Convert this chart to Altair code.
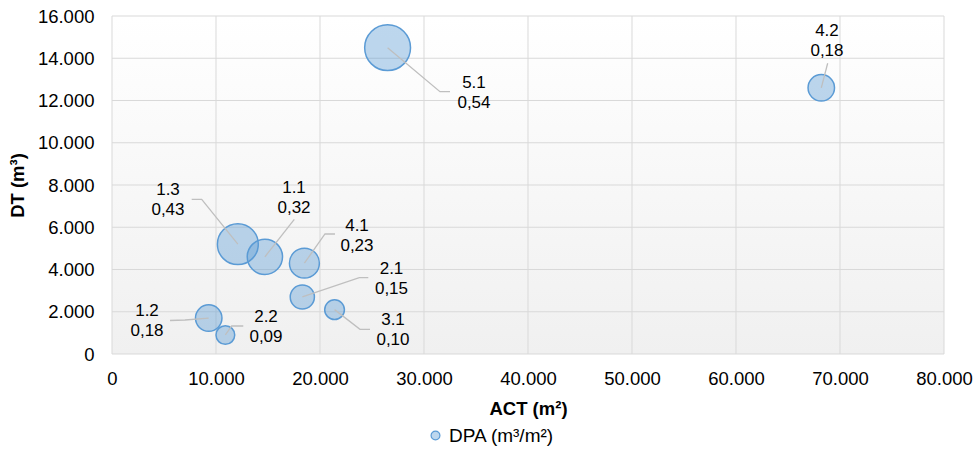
import altair as alt
import pandas as pd

# ---- data ----
codes = ["1.1", "1.2", "1.3", "2.1", "2.2", "3.1", "4.1", "4.2", "5.1"]
act = [14700, 9300, 12100, 18300, 10900, 21400, 18500, 68200, 26500]      # ACT (m²)
dt = [4600, 1700, 5200, 2700, 900, 2100, 4300, 12600, 14500]             # DT (m³)
dpa = [0.32, 0.18, 0.43, 0.15, 0.09, 0.10, 0.23, 0.18, 0.54]              # DPA (m³/m²)
series_name = "DPA (m³/m²)"

x_ticks = [0, 10000, 20000, 30000, 40000, 50000, 60000, 70000, 80000]
y_ticks = [0, 2000, 4000, 6000, 8000, 10000, 12000, 14000, 16000]
x_domain = [0, 80000]
y_domain = [0, 16000]

# data-label annotation anchors (data units)
label_x = [17500, 3365, 5384, 26874, 14807, 27018, 23557, 68747, 34806]
label_y = [7385, 1562, 7290, 3527, 1278, 1136, 5586, 14817, 12356]
# leader line elbow and end points (data units)
elbow_x = [17528, 7019, 8625, 23778, 11509, 23845, 20480, 68815, 31537]
elbow_y = [6377, 1610, 7324, 3612, 1326, 1169, 5681, 13762, 12417]
end_x = [17528, 5577, 7663, 24643, 12625, 24807, 21441, 68815, 32500]
end_y = [6377, 1586, 7324, 3612, 1326, 1169, 5681, 13762, 12417]

# ---- tables ----
df = pd.DataFrame({
    "code": codes, "act": act, "dt": dt, "dpa": dpa,
    "dpa_txt": [f"{v:.2f}".replace(".", ",") for v in dpa],
    "lx": label_x, "ly": label_y, "series": series_name,
})

rows = []
for i, c in enumerate(codes):
    rows.append({"code": c, "seq": 0, "x": act[i], "y": dt[i]})
    rows.append({"code": c, "seq": 1, "x": elbow_x[i], "y": elbow_y[i]})
    rows.append({"code": c, "seq": 2, "x": end_x[i], "y": end_y[i]})
leaders = pd.DataFrame(rows)

bg_df = pd.DataFrame({"x0": [x_domain[0]], "x1": [x_domain[1]],
                      "y0": [y_domain[0]], "y1": [y_domain[1]]})
xg = pd.DataFrame({"v": x_ticks})
yg = pd.DataFrame({"v": y_ticks})

FONT = "Liberation Sans"
fmt = "replace(format(datum.value, ','), ',', '.')"

xscale = alt.Scale(domain=x_domain, nice=False, zero=True)
yscale = alt.Scale(domain=y_domain, nice=False, zero=True)

xaxis = alt.Axis(title="ACT (m²)", values=x_ticks, labelExpr=fmt, grid=False,
                 domain=False, ticks=False, labelFontSize=18.5, labelPadding=15,
                 labelFlush=False, labelOverlap=False, labelColor="#000000",
                 titleFontSize=18.5, titleFontWeight="bold", titleColor="#000000",
                 titleY=60, titleBaseline="alphabetic")
yaxis = alt.Axis(title="DT (m³)", values=y_ticks, labelExpr=fmt, grid=False,
                 domain=False, ticks=False, labelFontSize=18.5, labelPadding=18,
                 labelFlush=False, labelOverlap=False, labelColor="#000000",
                 titleFontSize=18.5, titleFontWeight="bold", titleColor="#000000",
                 titleX=-95, titleY=169, titleBaseline="middle", titleAlign="center",
                 titleAngle=270)

def X(field):
    return alt.X(field, type="quantitative", scale=xscale, axis=xaxis)

def Y(field):
    return alt.Y(field, type="quantitative", scale=yscale, axis=yaxis)

gradient = alt.LinearGradient(
    gradient="linear",
    stops=[alt.GradientStop(offset=0, color="#FFFFFF"),
           alt.GradientStop(offset=1, color="#F0F0F0")],
    x1=0, x2=0, y1=0, y2=1)

bg = alt.Chart(bg_df).mark_rect(fill=gradient).encode(
    x=X("x0"), x2="x1", y=Y("y0"), y2="y1")

vgrid = alt.Chart(xg).mark_rule(color="#D9D9D9", strokeWidth=1).encode(x=X("v"))
hgrid = alt.Chart(yg).mark_rule(color="#D9D9D9", strokeWidth=1).encode(y=Y("v"))

# invisible layer that only provides the legend entry
legend_layer = alt.Chart(df).mark_circle(
    fill="#BDD7EE", fillOpacity=1, opacity=1, strokeWidth=1.2, size=0
).encode(
    x=X("act"), y=Y("dt"),
    stroke=alt.Stroke("series:N", scale=alt.Scale(range=["#5B9BD5"]),
                      legend=alt.Legend(title=None, orient="none", legendX=314, legendY=410,
                                        labelFontSize=19, labelFont=FONT, labelColor="#000000",
                                        symbolType="circle", symbolSize=78,
                                        symbolFillColor="#BDD7EE", symbolStrokeWidth=1.2,
                                        labelOffset=4, padding=0)),
)

bubbles = alt.Chart(df).mark_circle(
    fill="#5B9BD5", fillOpacity=0.4, opacity=1, stroke="#5B9BD5",
    strokeWidth=1.5, strokeOpacity=1
).encode(
    x=X("act"), y=Y("dt"),
    size=alt.Size("dpa:Q", scale=alt.Scale(domain=[0, 1], range=[0, 3893], zero=True),
                  legend=None),
)

lines = alt.Chart(leaders).mark_line(color="#BFBFBF", strokeWidth=1.3).encode(
    x=X("x"), y=Y("y"), detail="code:N", order="seq:Q")

txt1 = alt.Chart(df).mark_text(fontSize=17, font=FONT, color="#000000", dy=-10,
                               align="center", baseline="middle").encode(
    x=X("lx"), y=Y("ly"), text="code:N")
txt2 = alt.Chart(df).mark_text(fontSize=17, font=FONT, color="#000000", dy=10,
                               align="center", baseline="middle").encode(
    x=X("lx"), y=Y("ly"), text="dpa_txt:N")

chart = alt.layer(bg, vgrid, hgrid, legend_layer, bubbles, lines, txt1, txt2).properties(
    width=832, height=338,
    autosize=alt.AutoSizeParams(type="none"),
    padding={"left": 112, "top": 16, "right": 34, "bottom": 96},
    background="#FFFFFF",
).configure(font=FONT).configure_view(stroke=None)

chart.save("out.html", embed_options={"renderer": "svg", "actions": False})
